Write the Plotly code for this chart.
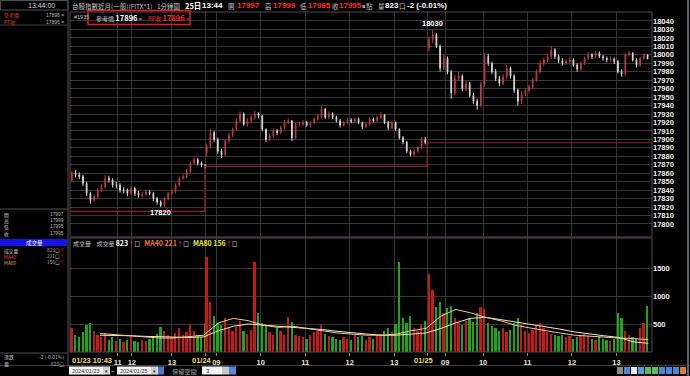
import plotly.graph_objects as go

W, H = 690, 376

# ---------------- data ----------------
# minute index of each day's first bar (01/23 starts at 10:43, others at 08:45)
day_start = [0, 182, 482]
bucket = 5  # minutes per drawn bar

open1 = [17852,17860,17858,17856,17848,17836,17828,17832,17840,17844,17854,17852,17846,17846,17840,17840,17836,17842,17836,17834,17835,17838,17836,17830,17826,17822,17830,17836,17838,17846,17854,17856,17862,17872,17876,17872,17870]
high1 = [17863,17864,17861,17858,17850,17838,17835,17842,17847,17858,17857,17854,17850,17848,17844,17842,17845,17844,17839,17838,17841,17840,17838,17832,17828,17832,17838,17841,17848,17856,17859,17865,17874,17879,17878,17874,17871]
low1 = [17850,17855,17853,17845,17833,17824,17826,17830,17838,17842,17849,17843,17842,17837,17836,17833,17834,17833,17831,17831,17833,17834,17827,17823,17820,17820,17828,17834,17836,17844,17852,17854,17860,17870,17869,17867,17866]
close1 = [17860,17858,17856,17848,17836,17828,17832,17840,17844,17854,17852,17846,17846,17840,17840,17836,17842,17836,17834,17835,17838,17836,17830,17826,17822,17830,17836,17838,17846,17854,17856,17862,17872,17876,17872,17870,17868]

open2 = [17884,17892,17908,17900,17886,17882,17898,17905,17912,17922,17930,17918,17922,17926,17930,17928,17912,17900,17904,17910,17908,17914,17920,17922,17902,17918,17918,17920,17917,17920,17924,17927,17936,17926,17930,17926,17922,17917,17920,17923,17921,17924,17920,17915,17918,17924,17922,17926,17929,17920,17914,17920,17912,17902,17897,17886,17882,17886,17890,17900]
high2 = [17895,17912,17910,17902,17889,17900,17908,17914,17925,17933,17932,17925,17929,17934,17932,17929,17913,17907,17913,17912,17916,17923,17925,17923,17920,17921,17923,17922,17922,17926,17930,17940,17937,17933,17932,17928,17924,17922,17926,17925,17926,17926,17921,17920,17926,17926,17928,17932,17930,17922,17922,17921,17913,17904,17898,17888,17889,17892,17903,17903]
low2 = [17880,17889,17897,17883,17878,17880,17895,17903,17910,17920,17916,17915,17919,17923,17925,17910,17897,17898,17902,17905,17906,17912,17918,17898,17900,17915,17916,17915,17914,17918,17922,17925,17924,17924,17924,17920,17914,17915,17918,17919,17919,17918,17912,17913,17916,17920,17920,17924,17918,17911,17912,17910,17900,17894,17884,17880,17880,17884,17888,17894]
close2 = [17892,17908,17900,17886,17882,17898,17905,17912,17922,17930,17918,17922,17926,17930,17928,17912,17900,17904,17910,17908,17914,17920,17922,17902,17918,17918,17920,17917,17920,17924,17927,17936,17926,17930,17926,17922,17917,17920,17923,17921,17924,17920,17915,17918,17924,17922,17926,17929,17920,17914,17920,17912,17902,17897,17886,17882,17886,17890,17900,17896]

open3 = [18008,18018,18024,18010,17984,17996,17980,17955,17972,17975,17960,17966,17952,17945,17940,17965,17998,17990,17980,17972,17966,17974,17984,17975,17958,17945,17954,17958,17962,17970,17980,17990,17994,17998,18006,17998,17993,17990,17992,17994,17988,17983,17990,17996,18000,17998,18002,17998,17996,17994,17995,17992,17980,17977,18000,18002,17994,17988,17996,18000]
high3 = [18022,18030,18026,18012,18000,17998,17982,17976,17980,17977,17970,17968,17955,17948,17968,18002,18001,17992,17983,17975,17977,17988,17986,17977,17960,17957,17961,17965,17973,17983,17993,17997,18001,18010,18008,18000,17996,17995,17997,17996,17990,17992,17998,18003,18002,18005,18004,18000,17998,17998,17997,17994,17983,18002,18005,18003,17996,17998,18002,17999]
low3 = [18004,18014,18008,17980,17982,17977,17948,17952,17969,17957,17957,17950,17942,17935,17938,17962,17987,17977,17969,17963,17964,17971,17972,17955,17940,17942,17951,17955,17960,17968,17978,17987,17991,17995,17995,17990,17987,17988,17990,17986,17980,17981,17988,17994,17995,17996,17996,17993,17991,17992,17989,17978,17974,17975,17998,17992,17985,17986,17994,17995]
close3 = [18018,18024,18010,17984,17996,17980,17955,17972,17975,17960,17966,17952,17945,17940,17965,17998,17990,17980,17972,17966,17974,17984,17975,17958,17945,17954,17958,17962,17970,17980,17990,17994,17998,18006,17998,17993,17990,17992,17994,17988,17983,17990,17996,18000,17998,18002,17998,17996,17994,17995,17992,17980,17977,18000,18002,17994,17988,17996,18000,17995]

vol1 = [420,300,260,350,480,520,380,300,260,340,220,260,200,240,180,220,260,200,180,210,190,230,280,320,450,380,300,260,340,420,300,360,480,380,300,260,520]
vol2 = [1700,900,650,520,480,600,420,380,450,560,380,320,400,1600,700,520,480,360,300,420,380,300,620,540,300,280,260,240,300,360,380,480,320,280,260,240,220,260,240,220,300,260,280,220,260,240,300,320,380,420,360,500,1600,600,520,640,420,380,480,560]
vol3 = [1400,1100,800,900,700,780,820,600,520,480,560,600,540,700,800,760,520,460,420,380,420,360,400,520,600,480,380,340,400,480,520,420,360,320,300,280,300,260,280,240,260,300,320,280,240,220,260,240,220,200,240,700,600,380,300,260,240,420,520,820]

ma_x = [40,60,80,100,120,140,160,180,
        200,220,240,260,280,300,320,340,360,380,400,420,440,460,480,
        500,520,540,560,580,600,620,640,660,680,700,720,740,760,780]
ma40 = [330,310,290,270,250,250,270,300,
        520,600,560,480,440,460,420,380,340,320,300,300,320,380,420,
        640,760,700,620,560,480,430,380,340,300,280,260,250,240,221]
ma80 = [300,300,290,280,270,260,260,270,
        380,460,500,480,460,440,430,400,370,340,320,300,300,320,340,
        420,520,600,620,580,540,500,460,410,360,320,290,260,180,156]

ref_prices = [17815, 17868, 17896]
high_mark = 18030
low_mark = 17820

x_tick_vals = [64, 83, 137, 182, 197, 257, 317, 377, 437, 482, 506, 557, 617, 677, 737]
x_tick_text = ["11", "12", "13", "", "09", "10", "11", "12", "13", "", "09", "10", "11", "12", "13"]
date_labels = ["01/23 10:43", "01/24", "01/25"]
price_ticks = list(range(17800, 18041, 10))
vol_ticks = [500, 1000, 1500]

quote_labels = ["開", "高", "低", "收"]
quote_values = ["17997", "17999", "17995", "17995"]

# ---------------- build ----------------
opens = open1 + open2 + open3
highs = high1 + high2 + high3
lows = low1 + low2 + low3
closes = close1 + close2 + close3
vols = vol1 + vol2 + vol3
xs = []
for s, n in zip(day_start, [len(close1), len(close2), len(close3)]):
    xs += [s + bucket * k + 2 for k in range(n)]

X0, X1 = 70, 652
PT, PB = 12, 237
VT, VB = 238, 352
XMAX = 785

FONT = "Liberation Sans, Noto Sans CJK TC, sans-serif"
CJK = "Noto Sans CJK TC, Liberation Sans, sans-serif"

fig = go.Figure()
fig.add_trace(go.Candlestick(
    x=xs, open=opens, high=highs, low=lows, close=closes,
    xaxis="x", yaxis="y", whiskerwidth=0,
    increasing=dict(line=dict(color="#c03a4a", width=1), fillcolor="#c03a4a"),
    decreasing=dict(line=dict(color="#d8d8d8", width=1), fillcolor="#d8d8d8"),
    showlegend=False, hoverinfo="skip"))

ref_x = [-0.5, day_start[1] - 0.5, day_start[2] - 0.5, XMAX]
ref_y = ref_prices + [ref_prices[-1]]
fig.add_trace(go.Scatter(x=ref_x, y=ref_y, mode="lines", xaxis="x", yaxis="y",
                         line=dict(color="#8e2028", width=1.2, shape="hv"),
                         showlegend=False, hoverinfo="skip"))

vcol = ["#c81818" if c >= o else "#18a818" for o, c in zip(opens, closes)]
fig.add_trace(go.Bar(x=xs, y=vols, marker=dict(color=vcol, line=dict(width=0)), width=2.4,
                     xaxis="x2", yaxis="y2", showlegend=False, hoverinfo="skip"))
fig.add_trace(go.Scatter(x=ma_x, y=ma80, mode="lines", xaxis="x2", yaxis="y2",
                         line=dict(color="#f0f0b0", width=1), showlegend=False, hoverinfo="skip"))
fig.add_trace(go.Scatter(x=ma_x, y=ma40, mode="lines", xaxis="x2", yaxis="y2",
                         line=dict(color="#f4c8a0", width=1), showlegend=False, hoverinfo="skip"))

def dom_y(top, bot):
    return [1 - bot / H, 1 - top / H]

grid = "#363636"
axis_font = dict(family=FONT, size=7.5, color="#f0f0f0", weight="bold")

fig.update_layout(
    width=W, height=H, margin=dict(l=0, r=0, t=0, b=0), autosize=False,
    paper_bgcolor="#000000", plot_bgcolor="#000000", bargap=0,
    xaxis=dict(domain=[X0 / W, X1 / W], range=[-0.5, XMAX], anchor="y",
               tickvals=x_tick_vals, showticklabels=False, showgrid=True,
               gridcolor=grid, gridwidth=1, zeroline=False, showline=False,
               rangeslider=dict(visible=False), matches="x2"),
    xaxis2=dict(domain=[X0 / W, X1 / W], range=[-0.5, XMAX], anchor="y2",
                tickvals=x_tick_vals, ticktext=x_tick_text, ticks="outside", ticklen=3,
                tickangle=0, tickcolor="#888888",
                tickfont=dict(family=FONT, size=7.5, color="#e4e4cc", weight="bold"),
                showgrid=True, gridcolor=grid, zeroline=False, showline=False),
    yaxis=dict(domain=dom_y(PT, PB), range=[17784.6, 18050.6], anchor="x", side="right",
               tickvals=price_ticks, tickformat="d", ticks="", tickfont=axis_font, showgrid=True,
               gridcolor=grid, zeroline=False, showline=False),
    yaxis2=dict(domain=dom_y(VT, VB), range=[0, 2036], anchor="x2", side="right",
                tickvals=vol_ticks, tickformat="d", ticks="", tickfont=axis_font, showgrid=True,
                gridcolor=grid, zeroline=False, showline=False),
)

anns = []
def T(x, y, s, color="#c8c8c8", size=6.5, anchor="left", bold=False, family=CJK, align="left"):
    anns.append(dict(x=x / W, y=1 - y / H, xref="paper", yref="paper", text=s, showarrow=False,
                     xanchor=anchor, yanchor="middle", align=align,
                     font=dict(family=family, size=size, color=color, weight="bold" if bold else "normal")))

def S(txt, color, size=None, bold=False):
    st = "color:%s;" % color
    if size:
        st += "font-size:%spx;" % size
    if bold:
        st += "font-weight:bold;"
    return "<span style='%s'>%s</span>" % (st, txt)

RED = "#ff2a2a"
GR = "#c4c4c4"
# header
T(41, 5, "13:44:00", "#d8d8d8", 7, "center", family=FONT)
T(70, 6, "台股指數近月(一般)(FITX*1)", GR, 6.5)
T(155, 6, "1分鐘圖", GR, 6.5)
T(183, 6, "25日", "#ffffff", 7.5, bold=True)
T(200, 6, "13:44", "#ffffff", 8, bold=True, family=FONT)
T(226, 6, "開", GR, 6.5)
T(235, 6, "17997", RED, 8, bold=True, family=FONT)
T(263, 6, "高", GR, 6.5)
T(271, 6, "17999", RED, 8, bold=True, family=FONT)
T(298, 6, "低", GR, 6.5)
T(306, 6, "17995", RED, 8, bold=True, family=FONT)
T(330, 6, "收", GR, 6.5)
T(337, 6, "17995", RED, 8, bold=True, family=FONT)
T(360, 6, "s", "#ffffff", 6, bold=True, family=FONT)
T(364, 6, "點", GR, 6.5)
T(376, 6, "量", GR, 6.5)
T(383, 6, "823", "#ffffff", 8, bold=True, family=FONT)
T(397, 6, "口", GR, 6.5)
T(405, 6, "-2 (-0.01%)", "#ffffff", 8, bold=True, family=FONT)

# left panel
T(2, 18.5, "參考價<br>" + S("PF收", "#e03838"), "#e03838", 5)
T(66, 18.5, "17896 =<br>17896 =", "#b8b8b8", 5, "right", family=FONT, align="right")
T(2, 224, "<br>".join(quote_labels), GR, 4.8)
T(66, 224, "<br>".join(quote_values), "#b8b8b8", 4.8, "right", family=FONT, align="right")
T(34, 242.5, "成交量", "#ffffff", 5.5, "center")
T(2, 256, "成交量<br>" + S("MA40", "#e04848") + "<br>" + S("MA80", "#e0a040"), GR, 4.8)
T(67, 256, "<br>".join(v + S("↑", RED) for v in ["823口", "221口", "156口"]),
  "#b8b8b8", 4.8, "right", align="right")
T(2, 360.5, "漲跌<br>量", GR, 5)
T(66, 360.5, "-2 (-0.01%)<br>823口", "#b8b8b8", 5, "right", align="right")

# in-plot labels
T(72, 17, "#1935", GR, 5.5, family=FONT)
T(94, 17.5, "參考價 " + S("17896", "#ffffff", 7.5, True) + " =", GR, 6)
T(146, 17.5, "PF收 " + S("17896", RED, 7.5, True) + " =", RED, 6)
anns.append(dict(x=489, y=high_mark, xref="x", yref="y", text=str(high_mark), showarrow=False,
                 yshift=6, font=dict(family=FONT, size=7.5, color="#ffffff", weight="bold")))
anns.append(dict(x=122, y=low_mark, xref="x", yref="y", text=str(low_mark), showarrow=False,
                 yshift=-5, font=dict(family=FONT, size=7.5, color="#ffffff", weight="bold")))
# volume legend (one line of text)
legend_txt = ("成交量&nbsp;&nbsp;&nbsp;&nbsp;成交量 " + S("823", "#ffffff", 7, True) + S("↑", RED) + "口"
              + "&nbsp;&nbsp;&nbsp;" + S("MA40 221", "#f07838", 7, True) + S("↑", RED) + "口"
              + "&nbsp;&nbsp;&nbsp;" + S("MA80 156", "#e8e840", 7, True) + S("↑", RED) + "口")
T(71, 243, legend_txt, GR, 6)
# date labels on the time axis
for xv, txt, anc in [(0, date_labels[0], "left"), (177, date_labels[1], "center"), (477, date_labels[2], "center")]:
    anns.append(dict(x=xv, y=1 - 360 / H, xref="x2", yref="paper", text=txt, showarrow=False,
                     xanchor=anc, yanchor="middle",
                     font=dict(family=FONT, size=7.5, color="#e8dc70", weight="bold")))
# bottom controls
T(70, 370.5, "2024/01/23", "#303030", 5.5, family=FONT)
T(106, 370.5, "▾", "#303030", 5, "center", family=FONT)
T(112.5, 370.5, "~", "#d0d0d0", 6, "center", family=FONT)
T(118, 370.5, "2024/01/25", "#303030", 5.5, family=FONT)
T(154, 370.5, "▾", "#303030", 5, "center", family=FONT)
T(170, 371, "保留空間", "#a8a8a8", 6.2)
T(204, 370.5, "3", "#303030", 6, family=FONT)
fig.update_layout(annotations=anns)

shapes = []
def R(x0, y0, x1, y1, line=None, fill=None, lw=1):
    shapes.append(dict(type="rect", xref="paper", yref="paper", x0=x0 / W, x1=x1 / W,
                       y0=1 - y1 / H, y1=1 - y0 / H,
                       line=dict(color=line or "rgba(0,0,0,0)", width=lw if line else 0),
                       fillcolor=fill or "rgba(0,0,0,0)", layer="above"))
def L(x0, y0, x1, y1, color, lw=1):
    shapes.append(dict(type="line", xref="paper", yref="paper", x0=x0 / W, x1=x1 / W,
                       y0=1 - y0 / H, y1=1 - y1 / H, line=dict(color=color, width=lw), layer="above"))

BORDER = "#5a4552"
R(X0, PT, X1, PB, BORDER)
R(X0, VT, X1, VB, BORDER)
R(88, 10.5, 190, 24.5, "#e02020", lw=1.5)
# left panel
R(0.5, 0.5, 68, 10, "#505050")
L(68, 0, 68, 365, "#505050")
L(0, 25, 68, 25, "#404040")
L(0, 209, 68, 209, "#505050")
R(0, 239, 67, 246, fill="#1414e6")
L(0, 353, 68, 353, "#505050")
L(0, 365.5, 690, 365.5, "#404040")
L(688, 0, 688, 376, "#566068", 2)
# bottom inputs
R(69, 366.5, 110, 374.5, fill="#f4f4f4")
R(103, 367, 109.5, 374, fill="#d0d0d0")
R(117, 366.5, 158, 374.5, fill="#f4f4f4")
R(151, 367, 157.5, 374, fill="#d0d0d0")
R(158, 366.5, 164, 374.5, fill="#4a78c8")
R(202, 366.5, 222, 374.5, fill="#f4f4f4")
R(222, 366.5, 229, 374.5, fill="#c8c8c8")
R(229, 366.5, 236, 374.5, fill="#5a86d8")
icon_cols = ["#8a8a8a", "#4a86d8", "#e8e8e8", "#4aa0e0", "#58c058", "#58c058", "#4a86d8", "#4a86d8", "#4a86d8", "#e07a20"]
for i, c in enumerate(icon_cols):
    R(617 + i * 7, 367, 623 + i * 7, 374, fill=c)
fig.update_layout(shapes=shapes)

fig.write_html("out.html", config={"displayModeBar": False},
               post_script="document.body.style.margin='0';document.body.style.padding='0';document.body.style.overflow='hidden';")
